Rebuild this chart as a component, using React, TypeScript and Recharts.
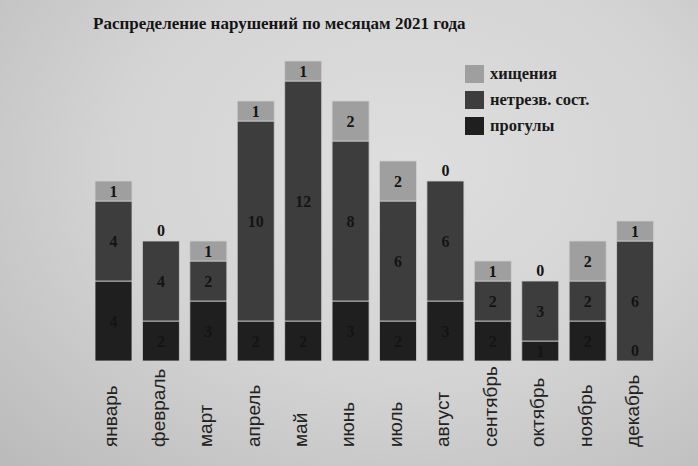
import { Bar, BarChart, LabelList, Legend, XAxis, YAxis } from 'recharts';

const months = ['январь', 'февраль', 'март', 'апрель', 'май', 'июнь', 'июль', 'август', 'сентябрь', 'октябрь', 'ноябрь', 'декабрь'];
const absences = [4, 2, 3, 2, 2, 3, 2, 3, 2, 1, 2, 0]; // прогулы
const drunk = [4, 4, 2, 10, 12, 8, 6, 6, 2, 3, 2, 6]; // нетрезв. сост.
const thefts = [1, 0, 1, 1, 1, 2, 2, 0, 1, 0, 2, 1]; // хищения

const data = months.map((month, i) => ({
  month,
  absences: absences[i],
  drunk: drunk[i],
  thefts: thefts[i],
}));

const COLORS = {
  absences: '#1f1f1f',
  drunk: '#3d3d3d',
  thefts: '#9f9f9f',
};

const legendOrder = ['thefts', 'drunk', 'absences'];

const serif = '"Liberation Serif", "DejaVu Serif", serif';
const sans = '"Liberation Sans", Arial, sans-serif';

interface SegLabelProps {
  x?: number;
  y?: number;
  width?: number;
  height?: number;
  value?: number;
  index?: number;
}

const numText = (x: number, y: number, value: number | string, key?: string) => (
  <text
    key={key}
    x={x}
    y={y}
    textAnchor="middle"
    dominantBaseline="central"
    fontFamily={serif}
    fontSize={16}
    fontWeight={600}
    fill="#141414"
  >
    {value}
  </text>
);

// plain centred label, skipped for zero segments
const SegLabel = (props: SegLabelProps) => {
  const { x = 0, y = 0, width = 0, height = 0, value } = props;
  if (!value) return null;
  return numText(Number(x) + Number(width) / 2, Number(y) + Number(height) / 2, value);
};

// middle segment also carries the zeros of its neighbours
const MidLabel = (props: SegLabelProps) => {
  const x = Number(props.x ?? 0);
  const y = Number(props.y ?? 0);
  const width = Number(props.width ?? 0);
  const height = Number(props.height ?? 0);
  const i = props.index ?? 0;
  const cx = x + width / 2;
  return (
    <g>
      {numText(cx, y + height / 2, props.value ?? '')}
      {thefts[i] === 0 && numText(cx, y - 11, 0, 'top0')}
      {absences[i] === 0 && numText(cx, y + height - 11, 0, 'bot0')}
    </g>
  );
};

const MonthTick = (props: { x?: number; y?: number; payload?: { value: string } }) => {
  const x = Number(props.x ?? 0) - 3;
  return (
    <text
      transform={`translate(${x},447) rotate(-90)`}
      textAnchor="start"
      dy="0.35em"
      fontFamily={sans}
      fontSize={19}
      fill="#222"
    >
      {props.payload?.value}
    </text>
  );
};

const LegendBox = ({ payload }: { payload?: Array<{ value?: string; color?: string; dataKey?: string }> }) => {
  const items = [...(payload ?? [])].sort(
    (a, b) => legendOrder.indexOf(String(a.dataKey)) - legendOrder.indexOf(String(b.dataKey)),
  );
  return (
    <div>
      {items.map((item) => (
        <div key={String(item.dataKey)} style={{ display: 'flex', alignItems: 'center', height: 26 }}>
          <div style={{ width: 19, height: 18, background: item.color, marginRight: 6 }} />
          <span style={{ fontFamily: serif, fontWeight: 700, fontSize: 16.5, color: '#1a1a1a' }}>{item.value}</span>
        </div>
      ))}
    </div>
  );
};

export default function App() {
  return (
    <div
      style={{
        position: 'relative',
        width: 698,
        height: 466,
        overflow: 'hidden',
        background: 'radial-gradient(ellipse at 58% 35%, #dedede 0%, #d4d4d4 50%, #bababa 100%)',
      }}
    >
      <style>{'body{margin:0}'}</style>
      <div
        style={{
          position: 'absolute',
          left: 93,
          top: 14,
          fontFamily: serif,
          fontWeight: 700,
          fontSize: 17,
          color: '#141414',
          whiteSpace: 'nowrap',
        }}
      >
        Распределение нарушений по месяцам 2021 года
      </div>
      <BarChart
        width={698}
        height={466}
        data={data}
        margin={{ top: 61, right: 39, bottom: 0, left: 90 }}
        barCategoryGap={5}
      >
        <XAxis
          dataKey="month"
          axisLine={false}
          tickLine={false}
          height={105}
          interval={0}
          tick={<MonthTick />}
        />
        <YAxis hide domain={[0, 15]} />
        <Legend
          layout="vertical"
          align="center"
          verticalAlign="middle"
          content={<LegendBox />}
          wrapperStyle={{ top: 61, left: 465, width: 220, height: 80 }}
        />
        <Bar dataKey="absences" name="прогулы" stackId="a" fill={COLORS.absences} stroke="#cfcfcf" strokeWidth={0.8} isAnimationActive={false}>
          <LabelList dataKey="absences" content={<SegLabel />} />
        </Bar>
        <Bar dataKey="drunk" name="нетрезв. сост." stackId="a" fill={COLORS.drunk} stroke="#cfcfcf" strokeWidth={0.8} isAnimationActive={false}>
          <LabelList dataKey="drunk" content={<MidLabel />} />
        </Bar>
        <Bar dataKey="thefts" name="хищения" stackId="a" fill={COLORS.thefts} stroke="#cfcfcf" strokeWidth={0.8} isAnimationActive={false}>
          <LabelList dataKey="thefts" content={<SegLabel />} />
        </Bar>
      </BarChart>
    </div>
  );
}
